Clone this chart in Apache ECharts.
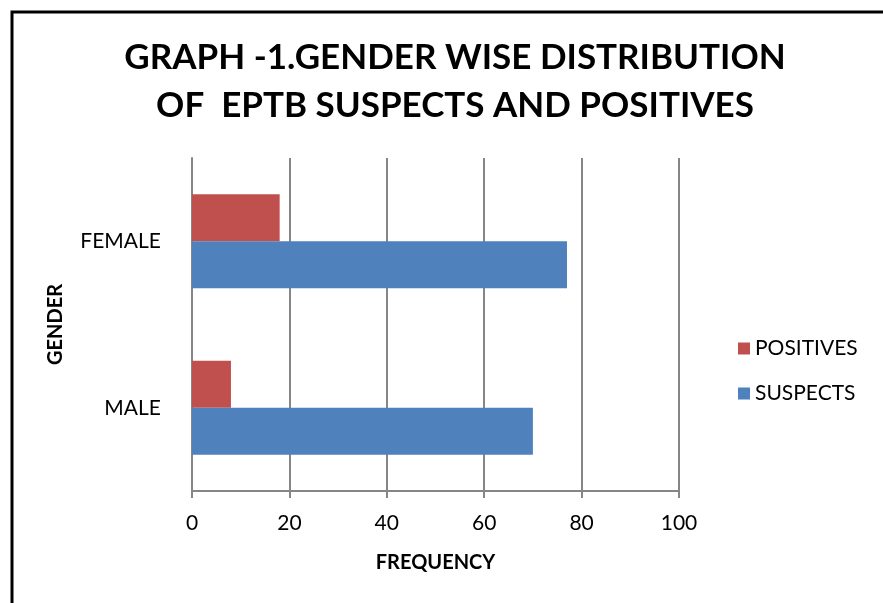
<!DOCTYPE html>
<html>
<head>
<meta charset="utf-8">
<script src="https://cdn.jsdelivr.net/npm/echarts@6/dist/echarts.min.js"></script>
<style>
  html, body { margin: 0; padding: 0; background: #fff; }
  #chart { width: 883px; height: 603px; }
</style>
</head>
<body>
<div id="chart"></div>
<script>
// categories bottom -> top, as on the chart
const genders = ['MALE', 'FEMALE']
const suspects = [70, 77]
const positives = [8, 18]
const xTicks = [0, 20, 40, 60, 80, 100]

const gray = '#868686'
const font = 'Lato, "Open Sans", sans-serif'

const chart = echarts.init(document.getElementById('chart'))
const option = {
  backgroundColor: '#fff',
  animation: false,
  title: {
    text: 'GRAPH -1.GENDER WISE DISTRIBUTION\nOF  EPTB SUSPECTS AND POSITIVES',
    left: 450,
    top: 29,
    textAlign: 'center',
    textStyle: {
      fontFamily: font,
      fontWeight: 'bold',
      fontSize: 35,
      lineHeight: 48,
      color: '#000'
    }
  },
  graphic: [{
    type: 'polyline',
    shape: { points: [[12, 603], [12, 12], [883, 12]] },
    style: { stroke: '#000', lineWidth: 3, fill: null }
  }],
  legend: {
    orient: 'vertical',
    left: 733,
    top: 333,
    itemWidth: 12,
    itemHeight: 12,
    itemGap: 24,
    icon: 'rect',
    data: ['POSITIVES', 'SUSPECTS'],
    textStyle: { fontFamily: font, fontSize: 21, color: '#000' }
  },
  grid: {
    left: 192,
    right: 204,
    top: 158,
    bottom: 112
  },
  xAxis: {
    type: 'value',
    min: xTicks[0],
    max: xTicks[xTicks.length - 1],
    interval: 20,
    name: 'FREQUENCY',
    nameLocation: 'middle',
    nameGap: 62,
    nameTextStyle: { fontFamily: font, fontWeight: 'bold', fontSize: 20, color: '#000' },
    axisLine: { show: true, lineStyle: { color: gray, width: 2 } },
    axisTick: { show: true, length: 7, lineStyle: { color: gray, width: 2 } },
    axisLabel: { margin: 22, fontFamily: font, fontSize: 21, color: '#000' },
    splitLine: { show: true, lineStyle: { color: gray, width: 2 } }
  },
  yAxis: {
    type: 'category',
    data: genders,
    name: 'GENDER',
    nameLocation: 'middle',
    nameRotate: 90,
    nameGap: 126,
    nameTextStyle: { fontFamily: font, fontWeight: 'bold', fontSize: 20, color: '#000' },
    axisLine: { show: true, lineStyle: { color: gray, width: 2 } },
    axisTick: { show: false },
    axisLabel: { margin: 31, fontFamily: font, fontSize: 21, color: '#000' }
  },
  series: [
    {
      name: 'POSITIVES',
      type: 'bar',
      data: positives,
      barWidth: 47,
      barGap: '0%',
      itemStyle: { color: '#C0504D' }
    },
    {
      name: 'SUSPECTS',
      type: 'bar',
      data: suspects,
      barWidth: 47,
      barGap: '0%',
      itemStyle: { color: '#4F81BD' }
    }
  ]
}
chart.setOption(option)
</script>
</body>
</html>
